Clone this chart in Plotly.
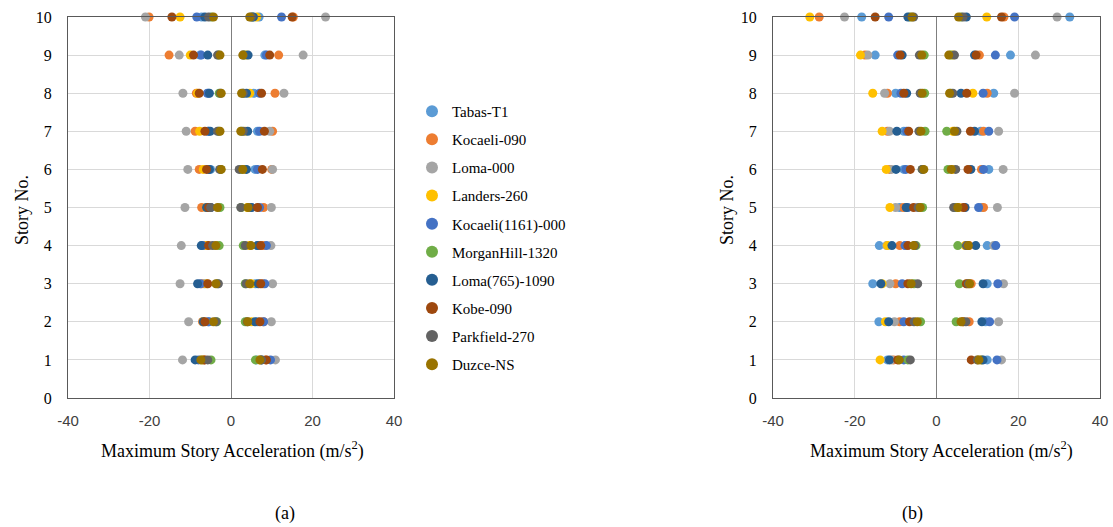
import plotly.graph_objects as go

stories = [1, 2, 3, 4, 5, 6, 7, 8, 9, 10]
series_names = ["Tabas-T1", "Kocaeli-090", "Loma-000", "Landers-260", "Kocaeli(1161)-000",
                "MorganHill-1320", "Loma(765)-1090", "Kobe-090", "Parkfield-270", "Duzce-NS"]
colors = ["#5B9BD5", "#ED7D31", "#A5A5A5", "#FFC000", "#4472C4",
          "#70AD47", "#255E91", "#9E480E", "#636363", "#997300"]

# Panel (a): minimum (negative) and maximum (positive) story accelerations, stories 1..10
a_neg = {
    "Tabas-T1":          [-7.0, -5.5, -6.5, -6.0, -5.0, -5.0, -5.5, -5.5, -7.6, -7.2],
    "Kocaeli-090":       [-6.5, -7.0, -7.2, -6.5, -7.2, -7.8, -8.8, -8.5, -15.2, -20.1],
    "Loma-000":          [-11.9, -10.4, -12.5, -12.2, -11.3, -10.6, -11.0, -11.8, -12.7, -21.0],
    "Landers-260":       [-7.0, -6.8, -6.0, -6.0, -6.0, -6.8, -7.7, -8.2, -10.0, -12.5],
    "Kocaeli(1161)-000": [-8.0, -5.5, -7.5, -7.0, -5.0, -5.5, -5.6, -5.8, -7.3, -8.4],
    "MorganHill-1320":   [-4.9, -3.5, -3.3, -2.9, -2.7, -2.5, -3.0, -2.9, -3.1, -4.8],
    "Loma(765)-1090":    [-8.8, -6.8, -8.2, -7.3, -6.0, -5.3, -5.1, -5.3, -5.7, -6.4],
    "Kobe-090":          [-6.5, -6.4, -5.7, -5.5, -5.5, -6.0, -6.4, -7.8, -9.2, -14.5],
    "Parkfield-270":     [-5.7, -3.7, -3.1, -4.5, -5.0, -2.8, -3.3, -2.6, -3.3, -5.5],
    "Duzce-NS":          [-7.4, -4.3, -3.7, -3.7, -3.3, -2.4, -2.7, -2.4, -2.7, -4.3],
}
a_pos = {
    "Tabas-T1":          [6.3, 6.5, 6.0, 6.5, 5.0, 5.9, 6.5, 5.6, 8.3, 6.9],
    "Kocaeli-090":       [8.5, 8.0, 7.8, 8.0, 8.0, 10.0, 10.2, 10.8, 11.7, 15.3],
    "Loma-000":          [10.9, 9.9, 10.2, 9.8, 9.9, 10.2, 9.5, 13.0, 17.7, 23.2],
    "Landers-260":       [7.0, 5.0, 5.0, 4.5, 4.0, 3.5, 3.5, 4.6, 3.8, 6.3],
    "Kocaeli(1161)-000": [9.7, 8.0, 8.3, 8.7, 7.0, 6.5, 7.0, 7.0, 8.7, 12.4],
    "MorganHill-1320":   [6.0, 3.5, 3.5, 3.0, 2.5, 2.5, 2.6, 3.0, 3.3, 5.3],
    "Loma(765)-1090":    [7.5, 5.9, 6.7, 6.5, 5.0, 3.8, 4.1, 3.8, 4.2, 5.5],
    "Kobe-090":          [8.7, 7.1, 7.3, 7.3, 6.5, 7.7, 8.2, 7.5, 9.5, 15.0],
    "Parkfield-270":     [7.5, 4.0, 3.7, 3.5, 2.4, 2.0, 3.0, 3.0, 3.0, 5.0],
    "Duzce-NS":          [7.1, 4.1, 4.6, 4.9, 4.2, 2.9, 2.4, 2.6, 2.9, 4.6],
}

# Panel (b)
b_neg = {
    "Tabas-T1":          [-12.0, -14.1, -15.6, -14.0, -9.0, -8.0, -8.0, -10.0, -15.0, -18.3],
    "Kocaeli-090":       [-10.5, -9.0, -10.0, -9.0, -8.1, -11.5, -12.0, -12.0, -17.5, -28.7],
    "Loma-000":          [-11.0, -10.3, -11.4, -12.2, -10.0, -11.0, -11.5, -12.7, -16.8, -22.5],
    "Landers-260":       [-13.8, -12.5, -13.3, -12.0, -11.4, -12.3, -13.3, -15.6, -18.6, -31.0],
    "Kocaeli(1161)-000": [-8.0, -8.0, -8.4, -7.7, -7.0, -7.5, -7.3, -8.7, -9.5, -11.7],
    "MorganHill-1320":   [-7.0, -3.9, -5.5, -5.0, -3.4, -3.5, -2.8, -2.9, -3.0, -6.5],
    "Loma(765)-1090":    [-11.5, -11.7, -13.6, -10.9, -7.4, -9.9, -9.7, -7.3, -8.4, -7.0],
    "Kobe-090":          [-9.5, -6.6, -7.0, -7.0, -5.6, -6.4, -6.8, -8.0, -8.9, -15.0],
    "Parkfield-270":     [-6.4, -5.5, -4.6, -5.3, -4.5, -3.5, -4.3, -4.0, -4.2, -5.6],
    "Duzce-NS":          [-9.1, -4.7, -6.2, -5.6, -4.0, -3.1, -3.8, -3.5, -3.6, -6.0],
}
b_pos = {
    "Tabas-T1":          [12.4, 12.0, 12.4, 12.4, 11.0, 12.8, 10.8, 14.0, 18.1, 32.6],
    "Kocaeli-090":       [11.0, 8.0, 8.5, 8.0, 11.5, 11.0, 11.5, 12.4, 10.5, 16.5],
    "Loma-000":          [15.9, 15.2, 16.4, 14.0, 14.9, 16.3, 15.2, 19.1, 24.2, 29.5],
    "Landers-260":       [10.0, 6.5, 7.5, 7.0, 5.5, 4.0, 4.0, 8.9, 4.0, 12.3],
    "Kocaeli(1161)-000": [14.8, 13.0, 15.0, 14.5, 10.3, 11.5, 12.8, 11.4, 14.4, 19.1],
    "MorganHill-1320":   [11.0, 4.8, 5.6, 5.2, 4.5, 2.8, 2.5, 3.5, 3.5, 6.0],
    "Loma(765)-1090":    [11.4, 11.1, 11.4, 9.6, 7.0, 8.4, 9.3, 6.0, 9.3, 7.3],
    "Kobe-090":          [8.5, 6.5, 7.3, 7.5, 6.6, 7.7, 8.3, 7.4, 9.7, 15.9],
    "Parkfield-270":     [10.0, 7.2, 7.8, 7.3, 4.2, 4.7, 5.0, 4.0, 4.4, 6.5],
    "Duzce-NS":          [10.4, 6.0, 8.1, 7.8, 5.2, 3.6, 4.4, 3.2, 3.0, 5.4],
}

x_ticks = [-40, -20, 0, 20, 40]
y_ticks = [0, 1, 2, 3, 4, 5, 6, 7, 8, 9, 10]

W, H = 1113, 527
SERIF = "Liberation Serif, Times New Roman, serif"

fig = go.Figure()

for i, name in enumerate(series_names):
    fig.add_trace(go.Scatter(
        x=a_neg[name] + a_pos[name], y=stories + stories,
        mode="markers", name=name, legendgroup=name, showlegend=True,
        marker=dict(color=colors[i], size=9, line=dict(width=0)),
        cliponaxis=False, xaxis="x", yaxis="y"))
for i, name in enumerate(series_names):
    fig.add_trace(go.Scatter(
        x=b_neg[name] + b_pos[name], y=stories + stories,
        mode="markers", name=name, legendgroup=name, showlegend=False,
        marker=dict(color=colors[i], size=9, line=dict(width=0)),
        cliponaxis=False, xaxis="x2", yaxis="y2"))

ydom = [1 - 398 / H, 1 - 17 / H]
xa = dict(range=[-40, 40], tickvals=x_ticks, ticktext=[str(v) for v in x_ticks],
          showgrid=True, gridcolor="#D9D9D9", gridwidth=1,
          zeroline=True, zerolinecolor="#7F7F7F", zerolinewidth=1.3,
          showline=True, linecolor="#595959", linewidth=1.3, mirror=True,
          ticks="", ticklabelstandoff=9, automargin=False,
          tickfont=dict(family="Liberation Sans, Arial, sans-serif", size=15, color="#404040"),
          fixedrange=True)
ya = dict(range=[0, 10], tickvals=y_ticks, ticktext=[str(v) for v in y_ticks],
          showgrid=True, gridcolor="#D9D9D9", gridwidth=1, zeroline=False,
          showline=True, linecolor="#595959", linewidth=1.3, mirror=True,
          ticks="", ticklabelstandoff=12, automargin=False,
          tickfont=dict(family=SERIF, size=16, color="#000000"),
          domain=ydom, fixedrange=True)

fig.update_layout(
    width=W, height=H, margin=dict(l=0, r=0, t=0, b=0, autoexpand=False),
    paper_bgcolor="white", plot_bgcolor="white",
    font=dict(family=SERIF, color="#000000"),
    xaxis=dict(xa, domain=[68 / W, 394 / W], anchor="y"),
    yaxis=dict(ya, anchor="x"),
    xaxis2=dict(xa, domain=[773 / W, 1100 / W], anchor="y2"),
    yaxis2=dict(ya, anchor="x2"),
    showlegend=True,
    legend=dict(x=412 / W, y=1 - 95 / H, xanchor="left", yanchor="top",
                font=dict(family=SERIF, size=15, color="#000000"),
                tracegroupgap=5.6, itemsizing="constant",
                bgcolor="rgba(0,0,0,0)", borderwidth=0),
)

annots = [
    dict(text="Story No.", x=22 / W, y=1 - 210 / H, textangle=-90, size=18),
    dict(text="Story No.", x=727 / W, y=1 - 210 / H, textangle=-90, size=18),
    dict(text="Maximum Story Acceleration (m/s<sup>2</sup>)", x=232 / W, y=1 - 450 / H, textangle=0, size=18),
    dict(text="Maximum Story Acceleration (m/s<sup>2</sup>)", x=941 / W, y=1 - 450 / H, textangle=0, size=18),
    dict(text="(a)", x=285 / W, y=1 - 513 / H, textangle=0, size=18),
    dict(text="(b)", x=912 / W, y=1 - 513 / H, textangle=0, size=18),
]
for a in annots:
    fig.add_annotation(text=a["text"], x=a["x"], y=a["y"], xref="paper", yref="paper",
                       xanchor="center", yanchor="middle", showarrow=False,
                       textangle=a["textangle"],
                       font=dict(family=SERIF, size=a["size"], color="#000000"))

fig.write_html("out.html", config={"displayModeBar": False})
